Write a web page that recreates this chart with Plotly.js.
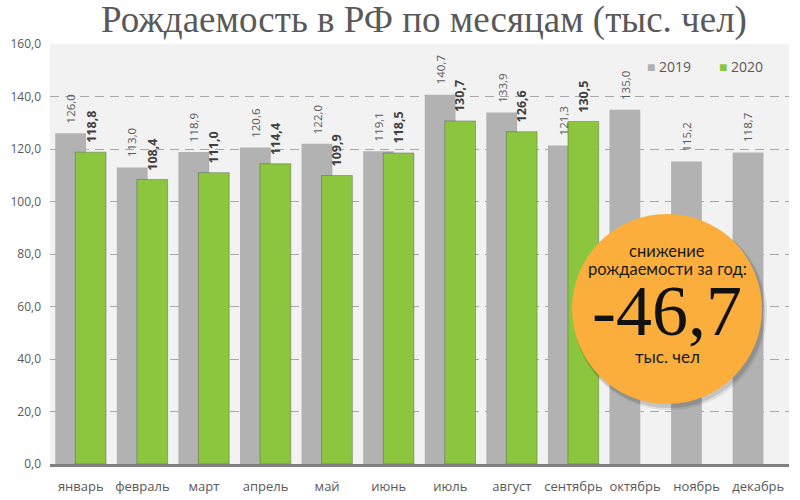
<!DOCTYPE html>
<html>
<head>
<meta charset="utf-8">
<script src="https://cdn.plot.ly/plotly-3.0.1.min.js"></script>
<style>html,body{margin:0;padding:0;background:#fff;}#chart{width:800px;height:500px;}</style>
</head>
<body>
<div id="chart"></div>
<script>
const months = ['январь','февраль','март','апрель','май','июнь','июль','август','сентябрь','октябрь','ноябрь','декабрь'];
const births2019 = [126.0,113.0,118.9,120.6,122.0,119.1,140.7,133.9,121.3,135.0,115.2,118.7];
const births2020 = [118.8,108.4,111.0,114.4,109.9,118.5,130.7,126.6,130.5];
const seriesNames = ['2019','2020'];
const yTicks = [0,20,40,60,80,100,120,140,160];
const decline = -46.7;

const grayC = '#b2b2b2', greenC = '#8cc63f', txtC = '#595959';
const fmt = v => v.toFixed(1).replace('.', ',');

const traces = [
  {type:'bar', name:seriesNames[0], x:months, y:births2019, width:0.5, offset:-0.415,
   marker:{color:grayC}, showlegend:false, hoverinfo:'skip'},
  {type:'bar', name:seriesNames[1], x:months.slice(0,births2020.length), y:births2020, width:0.5, offset:-0.09,
   marker:{color:greenC, line:{color:'rgba(60,60,60,0.35)', width:1}}, showlegend:false, hoverinfo:'skip'}
];

const annotations = [];
births2019.forEach((v,i)=>annotations.push({x:i-0.165, y:v, xref:'x', yref:'y', text:fmt(v), textangle:-90,
  showarrow:false, yanchor:'bottom', xanchor:'center', yshift:8,
  font:{family:'Open Sans', size:11.5, color:txtC}}));
births2020.forEach((v,i)=>annotations.push({x:i+0.16, y:v, xref:'x', yref:'y', text:'<b>'+fmt(v)+'</b>', textangle:-90,
  showarrow:false, yanchor:'bottom', xanchor:'center', yshift:7,
  font:{family:'Open Sans', size:12.5, color:'#3f3f3f'}}));

// legend
annotations.push({xref:'paper', yref:'paper', x:0.805, y:0.947, xanchor:'left', yanchor:'middle', showarrow:false,
  text:'<span style="color:'+grayC+'">■</span> '+seriesNames[0], font:{family:'Open Sans', size:14, color:txtC}});
annotations.push({xref:'paper', yref:'paper', x:0.903, y:0.947, xanchor:'left', yanchor:'middle', showarrow:false,
  text:'<span style="color:'+greenC+'">■</span> '+seriesNames[1], font:{family:'Open Sans', size:14, color:txtC}});

// badge text
const cx = (667-50)/739, cy = (464-309)/420;
const badge = (text, dy, font)=>({xref:'paper', yref:'paper', x:cx, y:cy, xanchor:'center', yanchor:'middle',
  yshift:dy, showarrow:false, text:text, font:font});
annotations.push(badge('снижение', 58, {family:'Lato', size:16.5, color:'#1a1a1a'}));
annotations.push(badge('рождаемости за год:', 40, {family:'Lato', size:16.5, color:'#1a1a1a'}));
annotations.push(badge(fmt(decline), -2, {family:'Liberation Serif', size:72, color:'#111'}));
annotations.push(badge('тыс. чел', -47, {family:'Lato', size:17, color:'#1a1a1a'}));

const circ = (dx,dy,r,color)=>({type:'circle', xref:'paper', yref:'paper', xsizemode:'pixel', ysizemode:'pixel',
  xanchor:cx, yanchor:cy, x0:dx-r, x1:dx+r, y0:dy-r, y1:dy+r, fillcolor:color, line:{width:0}, layer:'above'});

const layout = {
  width:800, height:500,
  margin:{l:50, r:11, t:44, b:36},
  paper_bgcolor:'#ffffff', plot_bgcolor:'#f2f2f2',
  separators:', ',
  barmode:'overlay',
  title:{text:'Рождаемость в РФ по месяцам (тыс. чел)', x:0.53, xanchor:'center', y:0.962, yanchor:'middle',
    font:{family:'Liberation Serif', size:37, color:txtC}},
  xaxis:{type:'category', showgrid:false, showline:true, linecolor:'#7f7f7f', linewidth:3, ticks:'',
    tickfont:{family:'Open Sans', size:13, color:txtC}, ticklabelstandoff:8, zeroline:false, fixedrange:true},
  yaxis:{range:[0,160], tickvals:yTicks, tickformat:'.1f', showgrid:true, gridcolor:'#a8a8a8', gridwidth:1,
    griddash:'9px,6px', zeroline:false, ticks:'', tickfont:{family:'Open Sans', size:12, color:txtC},
    ticklabelstandoff:8, fixedrange:true},
  shapes:[circ(3,-4,97,'rgba(0,0,0,0.08)'), circ(2,-3,96,'rgba(0,0,0,0.12)'), circ(0,0,95,'#fbae3c')],
  annotations:annotations,
  showlegend:false
};

Plotly.newPlot('chart', traces, layout, {displayModeBar:false, staticPlot:true});
</script>
</body>
</html>
